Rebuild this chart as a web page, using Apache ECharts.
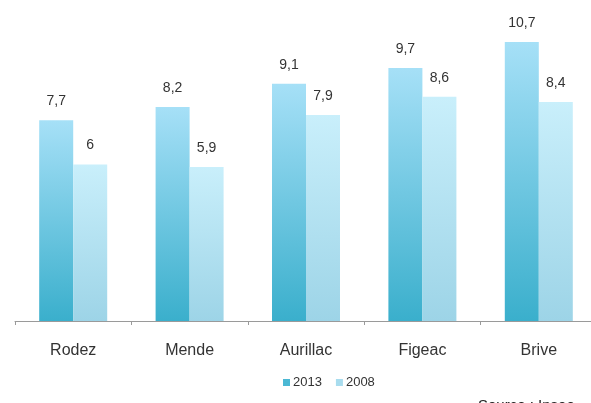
<!DOCTYPE html>
<html>
<head>
<meta charset="utf-8">
<script src="https://cdn.jsdelivr.net/npm/echarts@6/dist/echarts.min.js"></script>
<style>
  html, body { margin: 0; padding: 0; background: #ffffff; overflow: hidden; }
  /* the x axis runs slightly past the right edge of the window */
  #chart { width: 597px; height: 403px; }
</style>
</head>
<body>
<div id="chart"></div>
<script>
// Villes et valeurs par année
const categories = ['Rodez', 'Mende', 'Aurillac', 'Figeac', 'Brive'];
const values2013 = [7.7, 8.2, 9.1, 9.7, 10.7];
const values2008 = [6, 5.9, 7.9, 8.6, 8.4];
const seriesNames = ['2013', '2008'];

const fmt = v => String(v).replace('.', ',');

function grad(top, bottom) {
  return new echarts.graphic.LinearGradient(0, 0, 0, 1, [
    { offset: 0, color: top },
    { offset: 1, color: bottom }
  ]);
}

const labelStyle = {
  show: true,
  position: 'top',
  distance: 12,
  color: '#333333',
  fontSize: 14,
  fontFamily: 'Liberation Sans, Arial, sans-serif',
  formatter: p => fmt(p.value)
};

const chart = echarts.init(document.getElementById('chart'), null, { renderer: 'canvas' });
chart.setOption({
  animation: false,
  backgroundColor: '#ffffff',
  grid: { left: 15, top: 8, right: 0, bottom: 82, containLabel: false },
  legend: {
    bottom: 9,
    left: 278,
    itemWidth: 7,
    itemHeight: 7,
    itemGap: 14,
    textStyle: { color: '#333333', fontSize: 13, fontFamily: 'Liberation Sans, Arial, sans-serif', padding: [0, 0, 0, -2] },
    data: [
      { name: seriesNames[0], icon: 'rect', itemStyle: { color: '#4bb8d4' } },
      { name: seriesNames[1], icon: 'rect', itemStyle: { color: '#a8dcee' } }
    ]
  },
  xAxis: {
    type: 'category',
    data: categories,
    axisLine: { lineStyle: { color: '#9a9a9a', width: 1 } },
    axisTick: { show: true, length: 4, lineStyle: { color: '#9a9a9a' } },
    axisLabel: {
      color: '#333333',
      fontSize: 16,
      margin: 22,
      fontFamily: 'Liberation Sans, Arial, sans-serif'
    }
  },
  yAxis: {
    type: 'value',
    min: 0,
    max: 12,
    show: false,
    splitLine: { show: false }
  },
  series: [
    {
      name: seriesNames[0],
      type: 'bar',
      data: values2013,
      barWidth: 34,
      barGap: '0%',
      itemStyle: { color: grad('#a6e0f7', '#3aafcc') },
      label: labelStyle
    },
    {
      name: seriesNames[1],
      type: 'bar',
      data: values2008,
      barWidth: 34,
      barGap: '0%',
      itemStyle: { color: grad('#c9effb', '#9dd4e7') },
      label: labelStyle
    }
  ],
  graphic: [
    {
      type: 'text',
      left: 478,
      top: 398,
      style: { text: 'Source : Insee', fill: '#222222', fontSize: 15, fontFamily: 'Liberation Sans, Arial, sans-serif' }
    }
  ]
});
</script>
</body>
</html>
